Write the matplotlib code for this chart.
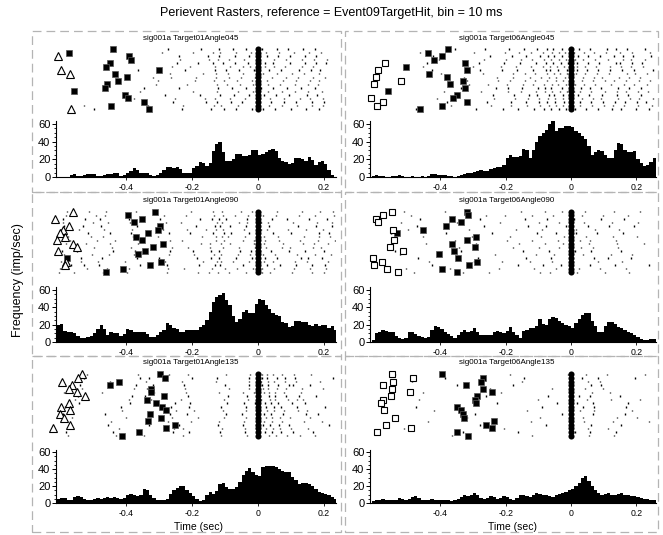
import numpy as np
import matplotlib
matplotlib.use("Agg")
import matplotlib.pyplot as plt
from matplotlib.patches import Rectangle
from matplotlib.ticker import MultipleLocator

plt.rcParams['font.family'] = ['Liberation Sans', 'DejaVu Sans']

# ---- data: histogram rates (imp/sec), 10 ms bins starting at -0.61 s ----
hist_t01_045 = [0, 0, 0, 0, 2, 3, 1, 1, 2, 3,
                3, 3, 1, 1, 2, 3, 3, 4, 4, 1,
                2, 5, 7, 10, 8, 4, 4, 4, 2, 1,
                2, 4, 8, 11, 11, 10, 11, 9, 5, 4,
                5, 10, 12, 17, 16, 12, 16, 29, 37, 40,
                28, 18, 18, 20, 26, 26, 24, 24, 25, 30,
                30, 25, 26, 28, 31, 32, 29, 22, 18, 17,
                15, 16, 21, 22, 20, 18, 23, 19, 14, 17,
                18, 15, 8, 2, 0]
hist_t06_045 = [1, 2, 1, 1, 0, 0, 1, 1, 2, 1,
                0, 0, 1, 0, 0, 1, 0, 1, 3, 3,
                2, 2, 2, 1, 1, 0, 1, 2, 3, 4,
                5, 6, 7, 8, 7, 7, 9, 10, 11, 11,
                14, 22, 25, 23, 23, 24, 32, 30, 22, 30,
                40, 46, 50, 53, 60, 65, 52, 55, 55, 58,
                58, 57, 52, 50, 46, 43, 35, 25, 28, 31,
                29, 25, 22, 21, 30, 39, 37, 30, 28, 28,
                29, 20, 16, 13, 14, 17, 22]
hist_t01_090 = [20, 21, 13, 11, 11, 10, 7, 5, 5, 6,
                7, 10, 15, 20, 15, 8, 11, 10, 10, 7,
                9, 15, 14, 12, 11, 11, 11, 9, 6, 6,
                8, 11, 14, 22, 20, 16, 15, 12, 12, 14,
                14, 14, 14, 17, 20, 25, 35, 46, 52, 54,
                56, 49, 43, 30, 23, 27, 35, 37, 34, 34,
                44, 50, 48, 43, 38, 33, 31, 30, 23, 22,
                17, 18, 24, 24, 23, 23, 20, 19, 21, 19,
                20, 20, 16, 19, 14]
hist_t06_090 = [2, 10, 12, 14, 13, 12, 11, 7, 5, 4,
                5, 12, 12, 9, 7, 6, 5, 6, 14, 18,
                17, 15, 11, 9, 7, 5, 8, 11, 14, 11,
                13, 16, 12, 8, 8, 8, 8, 12, 13, 11,
                10, 13, 17, 12, 8, 5, 13, 14, 16, 16,
                18, 27, 21, 20, 27, 29, 28, 24, 22, 20,
                18, 16, 22, 27, 31, 33, 33, 24, 18, 12,
                12, 18, 23, 23, 21, 17, 16, 14, 12, 10,
                8, 6, 4, 2, 2, 3, 3]
hist_t01_135 = [5, 6, 6, 3, 4, 7, 8, 7, 5, 4,
                4, 5, 6, 5, 6, 7, 6, 7, 6, 5,
                6, 10, 11, 10, 8, 10, 16, 15, 9, 6,
                4, 3, 3, 5, 11, 15, 18, 20, 20, 15,
                12, 8, 5, 2, 4, 10, 13, 11, 14, 22,
                24, 19, 16, 16, 19, 25, 33, 38, 41, 36,
                33, 32, 42, 43, 43, 44, 42, 40, 38, 37,
                36, 31, 27, 22, 24, 24, 22, 20, 17, 13,
                12, 11, 10, 7, 5]
hist_t06_135 = [2, 3, 4, 5, 4, 3, 3, 4, 6, 5,
                4, 5, 7, 8, 6, 4, 3, 4, 5, 4,
                3, 3, 4, 3, 2, 3, 5, 7, 9, 8,
                10, 12, 9, 6, 5, 6, 8, 7, 5, 6,
                8, 7, 5, 4, 6, 9, 10, 8, 7, 9,
                12, 11, 9, 10, 8, 7, 9, 11, 12, 13,
                15, 17, 20, 24, 30, 32, 26, 20, 15, 12,
                10, 11, 12, 10, 9, 11, 12, 10, 9, 8,
                8, 7, 6, 5, 5, 4, 4]

# ---- data: spike times per trial (ms) ----
spk_t01_045 = [
    [-262, -205, -131, -84, -47, -25, 22, 48, 83, 132, 165],
    [-358, -198, -124, -62, -14, 31, 72, 112, 151, 193],
    [-241, -152, -117, -71, -27, 26, 61, 96, 141, 176],
    [-318, -263, -187, -126, -88, -52, -9, 41, 86, 122, 167, 204],
    [-497, -231, -142, -102, -66, -18, 16, 52, 101, 146, 186],
    [-272, -174, -119, -76, -36, 11, 56, 92, 136, 171],
    [-377, -253, -161, -131, -85, -41, 6, 37, 77, 126, 157, 196],
    [-308, -214, -123, -94, -56, -16, 29, 66, 111, 151, 181],
    [-246, -182, -136, -106, -71, -31, 21, 46, 96, 141, 174, 206],
    [-528, -332, -226, -133, -112, -61, -4, 34, 71, 118, 162, 198],
    [-268, -168, -127, -91, -45, 14, 58, 104, 139, 183],
    [-344, -238, -121, -78, -38, 9, 44, 89, 129, 172],
    [-291, -196, -138, -114, -67, -22, 24, 63, 108, 154, 191],
    [-257, -158, -125, -82, -49, -7, 39, 79, 116, 163, 201],
    [-364, -221, -129, -98, -59, -12, 33, 68, 124, 159, 188],
    [-283, -176, -116, -73, -29, 18, 53, 94, 147, 179],
    [-236, -148, -122, -87, -42, 3, 47, 84, 133, 169, 208],
    [-302, -192, -134, -104, -63, -19, 27, 74, 114, 156, 185],
]
spk_t06_045 = [
    [-452, -301, -214, -168, -121, -87, -64, -42, -21, -6, 18, 43, 77, 118, 152, 183, 221],
    [-388, -276, -193, -152, -108, -79, -58, -33, -12, 9, 29, 62, 104, 141, 167, 204, 236],
    [-421, -248, -181, -139, -96, -71, -52, -28, -3, 22, 51, 88, 132, 158, 191, 244],
    [-326, -227, -176, -126, -92, -66, -47, -18, 4, 36, 71, 96, 147, 176, 212],
    [-473, -292, -208, -161, -113, -84, -61, -37, -14, 13, 47, 82, 126, 154, 198, 238],
    [-355, -262, -189, -144, -103, -75, -56, -29, -7, 25, 58, 110, 139, 172, 226],
    [-410, -237, -172, -131, -99, -69, -49, -23, 1, 33, 66, 93, 145, 181, 209, 252],
    [-311, -253, -197, -147, -117, -82, -59, -39, -16, 11, 39, 74, 121, 163, 194, 231],
    [-442, -283, -206, -156, -106, -77, -54, -31, -9, 19, 53, 86, 137, 149, 186, 218],
    [-367, -244, -185, -135, -94, -67, -45, -25, 6, 28, 63, 101, 128, 161, 205, 247],
    [-398, -269, -178, -142, -111, -73, -51, -34, -11, 15, 44, 79, 115, 170, 196, 233],
    [-337, -231, -192, -149, -101, -81, -62, -27, -2, 31, 57, 91, 143, 178, 215],
    [-461, -296, -201, -159, -123, -86, -57, -36, -19, 8, 41, 69, 108, 151, 188, 241],
    [-379, -257, -183, -137, -97, -72, -48, -22, 3, 26, 60, 98, 134, 165, 201, 229],
    [-426, -279, -211, -164, -115, -78, -63, -41, -13, 17, 49, 84, 119, 156, 192, 250],
    [-344, -239, -174, -128, -104, -68, -53, -26, -5, 21, 55, 94, 141, 174, 213],
    [-405, -266, -199, -153, -119, -83, -60, -38, -15, 12, 38, 72, 112, 159, 184, 226],
    [-319, -224, -186, -141, -109, -74, -46, -24, 2, 35, 68, 103, 130, 168, 207, 243],
]
spk_t01_090 = [
    [-598, -541, -466, -381, -287, -214, -158, -126, -107, -42, 8, 27, 91, 144, 196],
    [-587, -503, -452, -376, -271, -193, -133, -112, -61, -24, 14, 52, 118, 172, 221],
    [-592, -524, -478, -391, -298, -176, -141, -118, -96, -33, 3, 41, 87, 153, 209],
    [-571, -489, -433, -362, -267, -229, -128, -103, -47, -11, 21, 64, 127, 181, 232],
    [-603, -558, -471, -397, -276, -182, -149, -121, -88, -38, 11, 36, 102, 162, 201],
    [-579, -512, -461, -371, -311, -203, -136, -109, -53, -19, 6, 58, 134, 188, 227],
    [-596, -537, -484, -402, -281, -166, -124, -113, -77, -29, 17, 44, 111, 149, 213],
    [-566, -497, -443, -386, -262, -211, -146, -105, -58, -8, 24, 71, 96, 167, 191],
    [-589, -531, -476, -367, -293, -188, -131, -116, -84, -36, 1, 33, 121, 176, 224],
    [-601, -518, -458, -392, -272, -224, -139, -101, -64, -14, 12, 49, 108, 158, 206],
    [-575, -506, -469, -379, -304, -171, -127, -110, -91, -41, 19, 61, 139, 184, 218],
    [-594, -547, -438, -374, -266, -197, -144, -119, -55, -22, 7, 39, 93, 142, 199],
    [-583, -492, -463, -397, -284, -219, -134, -106, -71, -31, 15, 53, 124, 171, 229],
    [-568, -528, -481, -358, -277, -179, -129, -114, -46, -4, 28, 67, 115, 164, 203],
    [-599, -514, -449, -384, -269, -206, -137, -102, -81, -26, 4, 46, 99, 186, 216],
    [-577, -535, -472, -368, -301, -186, -142, -117, -67, -17, 22, 57, 131, 152, 194],
    [-591, -499, -456, -389, -279, -232, -125, -108, -59, -35, 9, 31, 106, 179, 225],
    [-582, -521, -447, -364, -289, -174, -147, -111, -86, -12, 18, 74, 137, 169, 211],
]
spk_t06_090 = [
    [-498, -311, -167, -88, 16, 74, 147],
    [-523, -402, -233, -107, -52, 38, 121, 186],
    [-462, -278, -141, -72, 9, 92, 163],
    [-547, -356, -196, -118, -41, 27, 58, 138],
    [-481, -329, -252, -95, -63, 19, 104, 177],
    [-512, -387, -154, -81, -28, 43, 131, 212],
    [-436, -297, -211, -124, -57, 6, 82, 156],
    [-559, -343, -178, -99, -36, 31, 66, 143],
    [-471, -266, -132, -76, -14, 52, 117, 193],
    [-505, -371, -221, -113, -47, 23, 89, 168],
    [-452, -304, -186, -92, -21, 47, 128, 201],
    [-538, -337, -148, -68, 12, 61, 152],
    [-489, -259, -203, -119, -54, 34, 97, 174],
    [-426, -318, -163, -86, -31, 57, 136, 238],
    [-551, -381, -241, -104, -45, 14, 79, 159],
    [-467, -286, -137, -61, 3, 69, 112, 182],
    [-519, -349, -217, -97, -38, 41, 126, 205],
    [-443, -292, -158, -79, -24, 54, 141, 222],
]
spk_t01_135 = [
    [-588, -472, -316, -218, -118, -47, -12, 18, 34, 52, 78, 131],
    [-563, -401, -262, -181, -102, -38, -3, 24, 41, 66, 97, 156],
    [-597, -447, -338, -231, -126, -29, 8, 29, 47, 83, 114, 188],
    [-541, -388, -253, -205, -94, -42, -8, 21, 38, 59, 102, 142],
    [-576, -429, -344, -226, -111, -33, 3, 32, 55, 88, 127, 173],
    [-518, -365, -271, -212, -98, -24, 12, 27, 44, 71, 109, 161],
    [-569, -454, -329, -239, -121, -45, -5, 16, 36, 62, 93, 214],
    [-602, -412, -248, -195, -107, -36, 6, 26, 49, 77, 121, 149],
    [-534, -376, -336, -221, -89, -27, 14, 31, 58, 86, 134, 197],
    [-581, -438, -259, -208, -115, -41, -2, 22, 43, 68, 105, 165],
    [-555, -392, -323, -233, -103, -31, 9, 35, 52, 91, 118, 137],
    [-591, -463, -266, -216, -96, -48, 1, 19, 39, 74, 146, 181],
    [-527, -357, -331, -199, -124, -26, 11, 28, 57, 81, 112, 227],
    [-572, -421, -256, -227, -109, -39, -7, 23, 46, 65, 99, 152],
    [-546, -383, -342, -213, -92, -34, 5, 33, 51, 84, 125, 175],
    [-594, -445, -274, -202, -117, -44, 2, 17, 42, 72, 138, 193],
    [-538, -369, -318, -224, -100, -28, 13, 30, 60, 95, 107, 158],
    [-584, -416, -264, -209, -113, -37, -4, 25, 48, 69, 119, 204],
]
spk_t06_135 = [
    [-452, -213, 63, 118],
    [-318, -96, 37, 142, 201],
    [-487, -151, 52, 88],
    [-226, -42, 18, 67, 173],
    [-365, -118, 56, 131],
    [-539, -187, -8, 47, 109, 226],
    [-279, -77, 61, 154],
    [-418, -134, 29, 71, 188],
    [-247, -58, 44, 98],
    [-331, -163, 12, 58, 137],
    [-466, -102, 49, 121, 212],
    [-293, -27, 66, 164],
    [-385, -145, 33, 84, 197],
    [-512, -204, 53, 112],
    [-261, -71, 24, 59, 149],
    [-437, -122, 41, 127, 238],
    [-348, -178, 62, 93],
    [-473, -89, 36, 71, 168],
]
# order in which the spike rows above belong to the displayed trials
trial_order = [5, 12, 2, 16, 8, 0, 14, 10, 3, 17, 7, 11, 1, 15, 6, 13, 9, 4]

# ---- data: other events per trial (ms) ----
sq_t01_045 = [-438, -574, -392, -385, -447, -460, -299, -433, -397, -423, -459, -463, -557, -403, -395, -346, -445, -329]
tri_t01_045_trial = [2, 6, 7, 17]
tri_t01_045_time = [-605, -597, -570, -567]

sq_t06_045 = [-375, -439, -395, -418, -324, -506, -317, -433, -378, -329, -370, -325, -559, -350, -360, -317, -394, -462]
osq_t06_045_trial = [4, 6, 8, 9, 10, 14, 15, 16]
osq_t06_045_time = [-569, -589, -596, -520, -604, -611, -574, -593]

sq_t01_090 = [-312, -394, -353, -377, -298, -303, -332, -369, -353, -289, -319, -343, -365, -578, -294, -327, -408, -462]
tri_t01_090_trial = [0, 2, 4, 5, 6, 7, 8, 9, 10, 11, 14, 15]
tri_t01_090_time = [-562, -614, -572, -591, -601, -586, -609, -560, -548, -605, -581, -584]

sq_t06_090 = [-319, -314, -365, -337, -382, -452, -531, -291, -319, -365, -294, -358, -404, -345, -287, -312, -394, -350]
osq_t06_090_trial = [0, 1, 2, 3, 5, 8, 10, 11, 13, 14, 15, 16, 17]
osq_t06_090_time = [-548, -574, -596, -589, -545, -541, -555, -515, -607, -579, -603, -564, -528]

sq_t01_135 = [-296, -283, -420, -449, -324, -324, -284, -337, -310, -291, -280, -327, -294, -334, -252, -280, -361, -412]
tri_t01_135_trial = [0, 1, 2, 3, 4, 5, 6, 8, 9, 10, 11, 12, 14, 15]
tri_t01_135_time = [-532, -545, -594, -563, -572, -548, -524, -573, -596, -569, -600, -587, -569, -620]

sq_t06_135 = [-395, -270, -276, -321, -270, -243, -288, -294, -290, -350, -337, -330, -326, -235, -260, -242, -348, -316]
osq_t06_135_trial = [0, 1, 2, 3, 4, 5, 6, 7, 8, 10, 12, 14, 15, 16]
osq_t06_135_time = [-548, -482, -545, -574, -548, -492, -551, -574, -582, -571, -538, -566, -490, -594]

titles = ["sig001a Target01Angle045", "sig001a Target06Angle045",
          "sig001a Target01Angle090", "sig001a Target06Angle090",
          "sig001a Target01Angle135", "sig001a Target06Angle135"]

# ---- layout (pixels) ----
W, H = 663, 535
fig = plt.figure(figsize=(W / 100, H / 100), dpi=100)


def rect(x0, y0, x1, y1):
    return [x0 / W, 1 - y1 / H, (x1 - x0) / W, (y1 - y0) / H]


col_x = [(56, 336), (370, 656)]
col_lim = [(-0.612, 0.236), (-0.615, 0.26)]
raster_y = [(47.2, 110.8), (209.9, 274.1), (372.5, 437.5)]
hist_y = [(121.3, 177), (287.4, 342), (449.5, 503)]
title_y = [38, 200, 363]
title_x = [191, 507]
box_y = [(31, 192), (192, 356), (356, 532)]
box_x = [(32, 341), (345, 658)]

panels = [
    (hist_t01_045, spk_t01_045, sq_t01_045, tri_t01_045_trial, tri_t01_045_time, '^'),
    (hist_t06_045, spk_t06_045, sq_t06_045, osq_t06_045_trial, osq_t06_045_time, 's'),
    (hist_t01_090, spk_t01_090, sq_t01_090, tri_t01_090_trial, tri_t01_090_time, '^'),
    (hist_t06_090, spk_t06_090, sq_t06_090, osq_t06_090_trial, osq_t06_090_time, 's'),
    (hist_t01_135, spk_t01_135, sq_t01_135, tri_t01_135_trial, tri_t01_135_time, '^'),
    (hist_t06_135, spk_t06_135, sq_t06_135, osq_t06_135_trial, osq_t06_135_time, 's'),
]

for i, (hist, spk, sq, o_trial, o_time, o_marker) in enumerate(panels):
    row, col = divmod(i, 2)
    x0, x1 = col_x[col]

    # dashed frame
    bx0, bx1 = box_x[col]
    by0, by1 = box_y[row]
    fig.patches.append(Rectangle((bx0 / W, 1 - by1 / H), (bx1 - bx0) / W, (by1 - by0) / H,
                                 transform=fig.transFigure, fill=False,
                                 edgecolor='#b4b4b4', linewidth=0.9, linestyle=(0, (7, 4))))

    fig.text(title_x[col] / W, 1 - title_y[row] / H, titles[i], ha='center', va='center', fontsize=5.8)

    # raster
    ntr = len(spk)
    rows = [np.array(spk[j]) / 1000 for j in trial_order]
    ax = fig.add_axes(rect(x0, raster_y[row][0], x1, raster_y[row][1]))
    ax.eventplot(rows, lineoffsets=np.arange(ntr), linelengths=0.4, linewidths=1.0, colors='black')
    ax.plot(np.zeros(ntr), np.arange(ntr), 'o', color='black', markersize=4.4, mew=0, clip_on=False)
    ax.plot(np.array(sq) / 1000, np.arange(ntr), 's', color='black', markersize=5.0,
            markeredgecolor='#555555', markeredgewidth=0.5, clip_on=False)
    ax.plot(np.array(o_time) / 1000, o_trial, o_marker, markerfacecolor='white',
            markeredgecolor='black', markersize=4.8 if o_marker == 's' else 5.2,
            markeredgewidth=0.8, clip_on=False)
    ax.set_xlim(*col_lim[col])
    ax.set_ylim(ntr - 0.5, -0.5)
    ax.axis('off')

    # histogram
    axh = fig.add_axes(rect(x0, hist_y[row][0], x1, hist_y[row][1]))
    centers = np.round(-0.605 + 0.01 * np.arange(len(hist)), 3)
    axh.bar(centers, hist, width=0.01, color='black', linewidth=0)
    axh.set_xlim(*col_lim[col])
    axh.set_ylim(0, 63)
    axh.set_yticks([0, 20, 40, 60])
    axh.yaxis.set_minor_locator(MultipleLocator(5))
    axh.set_xticks([-0.4, -0.2, 0, 0.2])
    axh.set_xticklabels(['-0.4', '-0.2', '0', '0.2'])
    axh.tick_params(axis='y', labelsize=8, length=3, width=0.7, pad=1, direction='out')
    axh.tick_params(axis='y', which='minor', length=1.8, width=0.6)
    axh.tick_params(axis='x', labelsize=6.3, length=2, width=0.6, pad=2.5, direction='out')
    for s in ['top', 'right']:
        axh.spines[s].set_visible(False)
    axh.spines['left'].set_linewidth(0.8)
    axh.spines['bottom'].set_linewidth(0.8)

fig.text(331 / W, 1 - 13 / H, "Perievent Rasters, reference = Event09TargetHit, bin = 10 ms",
         ha='center', va='center', fontsize=9)
fig.text(18 / W, 1 - 280 / H, "Frequency (imp/sec)", rotation=90, ha='center', va='center', fontsize=9)
fig.text(198 / W, 1 - 527 / H, "Time (sec)", ha='center', va='center', fontsize=7.5)
fig.text(512 / W, 1 - 527 / H, "Time (sec)", ha='center', va='center', fontsize=7.5)

fig.savefig("out.png", dpi=100)
